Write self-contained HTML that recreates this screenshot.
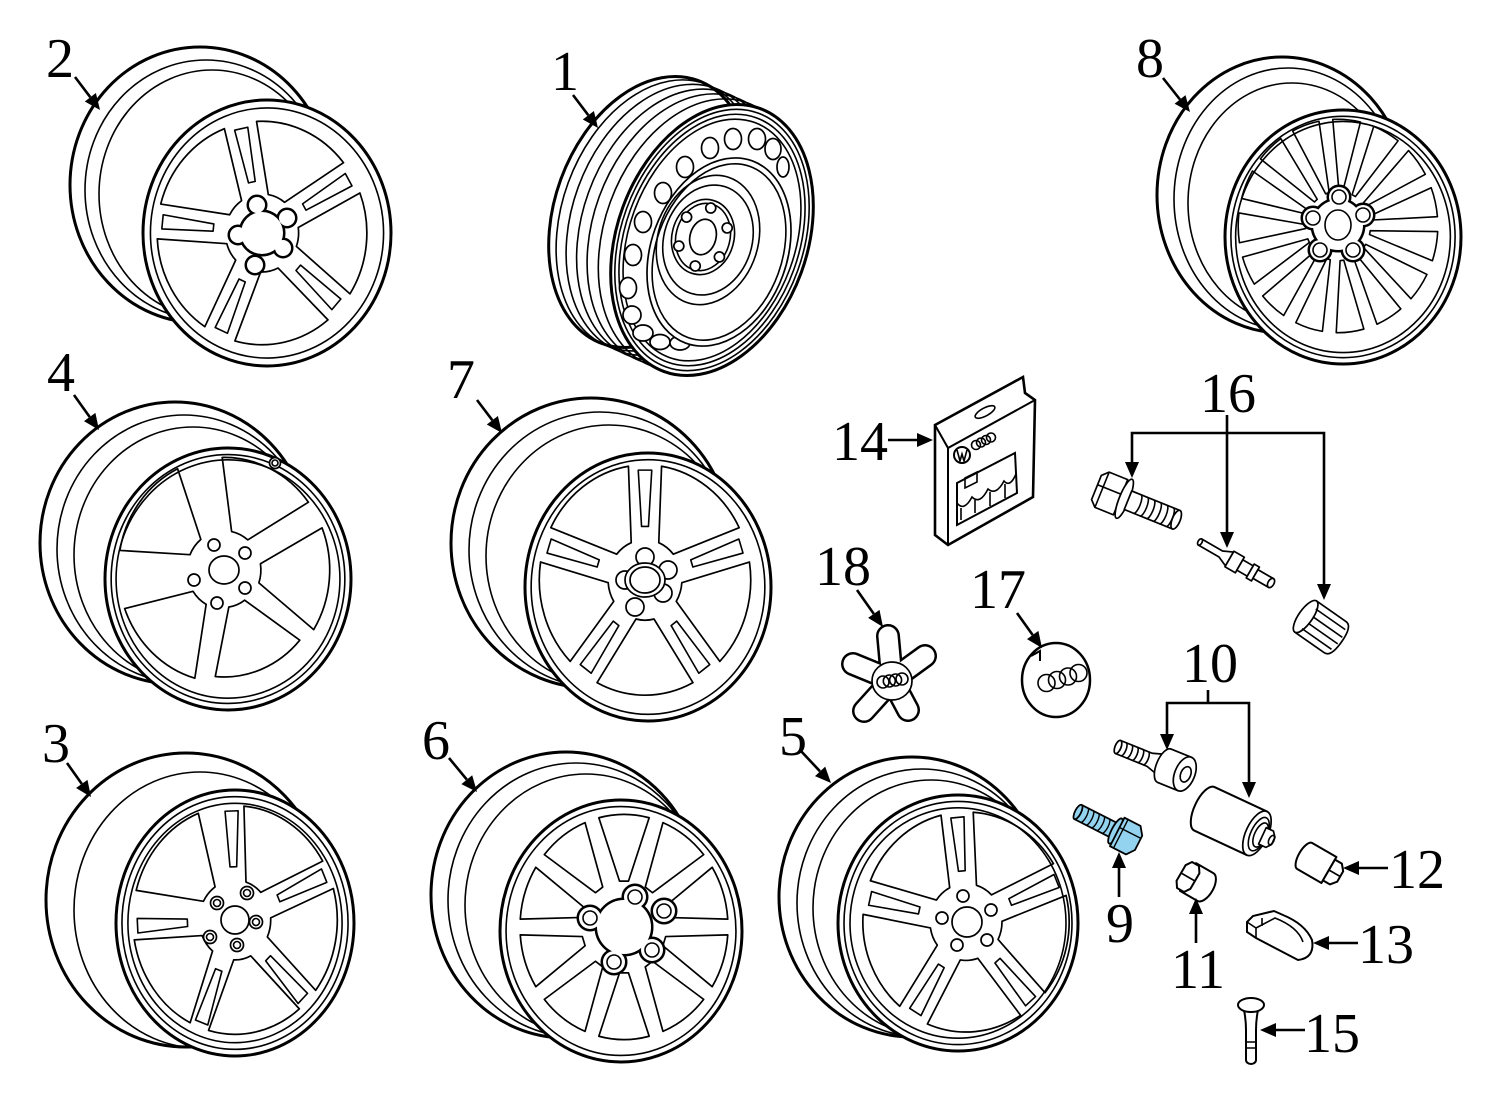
<!DOCTYPE html>
<html><head><meta charset="utf-8"><style>
html,body{margin:0;padding:0;background:#fff;}
svg{display:block}
.o{fill:#fff;stroke:#000;stroke-width:3}
.t{fill:none;stroke:#000;stroke-width:1.6}
.w{fill:#fff;stroke:#000;stroke-width:1.7}
.f *{vector-effect:non-scaling-stroke}
text{font-family:"Liberation Serif","DejaVu Serif",serif;font-size:56px;fill:#000;text-anchor:middle}
.ar{stroke:#000;stroke-width:2.6;fill:none}
.ah{fill:#000;stroke:none}
.b{fill:#93d3f0;stroke:#000;stroke-width:1.8}
</style></head><body>
<svg width="1500" height="1103" viewBox="0 0 1500 1103" xmlns="http://www.w3.org/2000/svg">
<defs>
<path id="big" d="M-7.3,-29.1 L-39,-76.6 A86,86 0 0 1 39,-76.6 L7.3,-29.1 A30,30 0 0 0 -7.3,-29.1 Z" fill="none" stroke="#000" stroke-width="1.7" vector-effect="non-scaling-stroke" stroke-linejoin="round"/>
<path id="slit" d="M-2.8,-40 L-5.5,-82 L5.5,-82 L2.8,-40 Z" fill="none" stroke="#000" stroke-width="1.6" vector-effect="non-scaling-stroke" stroke-linejoin="round"/>
<path id="med" d="M-3.7,-35 L-20.8,-83.4 A86,86 0 0 1 20.8,-83.4 L3.7,-35 Z" fill="none" stroke="#000" stroke-width="1.7" vector-effect="non-scaling-stroke" stroke-linejoin="round"/>
<path id="nar" d="M-1.6,-28 L-12,-85.2 A86,86 0 0 1 12,-85.2 L1.6,-28 Z" fill="none" stroke="#000" stroke-width="1.6" vector-effect="non-scaling-stroke" stroke-linejoin="round"/>
</defs>

<!-- ========== WHEEL 2 ========== -->
<ellipse class="o" cx="200" cy="185" rx="130" ry="138"/>
<ellipse class="t" cx="206" cy="190" rx="121" ry="130"/>
<ellipse class="t" cx="212" cy="194" rx="113" ry="124"/>
<g class="f" transform="translate(267,233) scale(1.24,1.33)">
<circle class="o" r="100"/><circle class="t" r="94"/>
</g>
<g class="f" transform="translate(262,233) scale(1.22,1.30)">
<use href="#big" transform="rotate(24)"/><use href="#big" transform="rotate(96)"/><use href="#big" transform="rotate(168)"/><use href="#big" transform="rotate(240)"/><use href="#big" transform="rotate(312)"/>
<use href="#slit" transform="rotate(-12)"/><use href="#slit" transform="rotate(60)"/><use href="#slit" transform="rotate(132)"/><use href="#slit" transform="rotate(204)"/><use href="#slit" transform="rotate(276)"/>
</g>
<g stroke="#000" stroke-width="3" fill="#fff">
<circle cx="257" cy="205" r="9"/><circle cx="287" cy="218" r="9"/><circle cx="238" cy="235" r="9"/><circle cx="255" cy="265" r="9"/><circle cx="283" cy="248" r="9"/><circle cx="262" cy="233" r="22"/>
</g>
<g fill="#fff"><circle cx="262" cy="233" r="21"/><circle cx="257" cy="205" r="8"/><circle cx="287" cy="218" r="8"/><circle cx="238" cy="235" r="8"/><circle cx="255" cy="265" r="8"/><circle cx="283" cy="248" r="8"/></g>

<!-- ========== WHEEL 1 (steel) ========== -->
<g transform="translate(650,212) rotate(20)"><ellipse class="o" rx="95" ry="140"/></g>
<g transform="translate(657.4,215.4) rotate(20)"><ellipse class="t" rx="95" ry="140"/></g>
<g transform="translate(667.4,219.8) rotate(20)"><ellipse class="t" rx="95" ry="140"/></g>
<g transform="translate(677.9,224.6) rotate(20)"><ellipse class="t" rx="95" ry="140"/></g>
<g transform="translate(688.4,229.4) rotate(20)"><ellipse class="t" rx="95" ry="140"/></g>
<g transform="translate(699.6,234.4) rotate(20)"><ellipse class="t" rx="95" ry="140"/></g>
<g transform="translate(712,240) rotate(20)">
<ellipse class="o" rx="95" ry="140"/><ellipse class="t" rx="91" ry="135"/><ellipse class="t" rx="87" ry="130"/><ellipse class="t" rx="83" ry="125"/>
</g>
<g class="w">
<ellipse cx="710" cy="148" rx="8.5" ry="10.5"/><ellipse cx="733" cy="139" rx="8.5" ry="10.5"/><ellipse cx="757" cy="139" rx="8.5" ry="10.5"/><ellipse cx="773" cy="149" rx="8" ry="10.5"/><ellipse cx="783" cy="167" rx="6" ry="10"/>
<ellipse cx="685" cy="167" rx="8.5" ry="10.5"/><ellipse cx="663" cy="193" rx="8.5" ry="10.5"/><ellipse cx="643" cy="222" rx="8.5" ry="10.5"/><ellipse cx="633" cy="255" rx="8.5" ry="10.5"/><ellipse cx="628" cy="288" rx="8.5" ry="10.5"/><ellipse cx="632" cy="315" rx="9" ry="9"/><ellipse cx="643" cy="333" rx="10" ry="8"/><ellipse cx="660" cy="342" rx="10" ry="7.5"/><ellipse cx="680" cy="343" rx="10" ry="7"/>
</g>
<g transform="translate(719,252) rotate(20)"><ellipse class="w" rx="68" ry="97"/><ellipse class="t" rx="63" ry="91"/></g>
<g transform="translate(708,240) rotate(18)"><ellipse class="t" rx="50" ry="66"/><ellipse class="t" rx="44" ry="56"/></g>
<g transform="translate(703,237) rotate(15)">
<ellipse class="t" rx="31" ry="38"/><ellipse class="t" rx="27" ry="34"/>
<circle class="w" cx="0" cy="-30" r="5"/><circle class="w" cx="21" cy="-15" r="5"/><circle class="w" cx="21" cy="15" r="5"/><circle class="w" cx="0" cy="30" r="5"/><circle class="w" cx="-21" cy="15" r="5"/><circle class="w" cx="-21" cy="-15" r="5"/>
<ellipse class="w" rx="13" ry="18"/>
</g>

<!-- ========== WHEEL 8 ========== -->
<ellipse class="o" cx="1282" cy="195" rx="125" ry="138"/>
<ellipse class="t" cx="1288" cy="199" rx="114" ry="131"/>
<ellipse class="t" cx="1292" cy="203" rx="104" ry="120"/>
<g class="f" transform="translate(1343,237) scale(1.18,1.27)">
<circle class="o" r="100"/><circle class="t" r="95"/><circle class="t" r="91"/>
</g>
<g class="f" transform="translate(1338,226) scale(1.16,1.24)">
<use href="#nar" transform="rotate(5)"/><use href="#nar" transform="rotate(29)"/><use href="#nar" transform="rotate(53)"/><use href="#nar" transform="rotate(77)"/><use href="#nar" transform="rotate(101)"/><use href="#nar" transform="rotate(125)"/><use href="#nar" transform="rotate(149)"/><use href="#nar" transform="rotate(173)"/><use href="#nar" transform="rotate(197)"/><use href="#nar" transform="rotate(221)"/><use href="#nar" transform="rotate(245)"/><use href="#nar" transform="rotate(269)"/><use href="#nar" transform="rotate(293)"/><use href="#nar" transform="rotate(317)"/><use href="#nar" transform="rotate(341)"/>
</g>
<g stroke="#000" stroke-width="3" fill="#fff">
<circle cx="1339" cy="197" r="11"/><circle cx="1363" cy="215" r="11"/><circle cx="1353" cy="250" r="11"/><circle cx="1320" cy="250" r="11"/><circle cx="1313" cy="218" r="11"/><circle cx="1338" cy="225" r="26"/>
</g>
<g fill="#fff"><circle cx="1338" cy="225" r="25"/><circle cx="1339" cy="197" r="10"/><circle cx="1363" cy="215" r="10"/><circle cx="1353" cy="250" r="10"/><circle cx="1320" cy="250" r="10"/><circle cx="1313" cy="218" r="10"/></g>
<g class="t"><circle cx="1339" cy="197" r="7"/><circle cx="1363" cy="215" r="7"/><circle cx="1353" cy="250" r="7"/><circle cx="1320" cy="250" r="7"/><circle cx="1313" cy="218" r="7"/><ellipse cx="1338" cy="225" rx="13" ry="15"/></g>

<!-- ========== WHEEL 4 ========== -->
<ellipse class="o" cx="175" cy="543" rx="135" ry="141"/>
<ellipse class="t" cx="184" cy="549" rx="127" ry="134"/>
<ellipse class="t" cx="193" cy="555" rx="119" ry="128"/>
<g class="f" transform="translate(228,579) scale(1.23,1.31)">
<circle class="o" r="100"/><circle class="t" r="95"/><circle class="t" r="91"/>
</g>
<g class="f" transform="translate(224,570) scale(1.23,1.31)">
<use href="#big" transform="rotate(26)"/><use href="#big" transform="rotate(95)"/><use href="#big" transform="rotate(158) scale(0.95)"/><use href="#big" transform="rotate(223)"/><use href="#big" transform="rotate(307)"/>
</g>
<circle class="w" cx="275" cy="463" r="5.5"/><circle class="t" cx="275" cy="463" r="3"/>
<g class="w">
<ellipse cx="224" cy="570" rx="15" ry="14"/>
<circle cx="214" cy="545" r="6"/><circle cx="245" cy="553" r="6"/><circle cx="194" cy="580" r="6"/><circle cx="217" cy="603" r="6"/><circle cx="245" cy="588" r="6"/>
</g>

<!-- ========== WHEEL 7 ========== -->
<ellipse class="o" cx="591" cy="543" rx="140" ry="145"/>
<ellipse class="t" cx="600" cy="550" rx="131" ry="138"/>
<ellipse class="t" cx="609" cy="556" rx="123" ry="131"/>
<g class="f" transform="translate(648,587) scale(1.23,1.34)">
<circle class="o" r="100"/><circle class="t" r="95"/>
</g>
<g class="f" transform="translate(645,580) scale(1.23,1.34)">
<use href="#big" transform="rotate(36)"/><use href="#big" transform="rotate(108)"/><use href="#big" transform="rotate(180)"/><use href="#big" transform="rotate(252)"/><use href="#big" transform="rotate(324)"/>
<use href="#slit" transform="rotate(0)"/><use href="#slit" transform="rotate(72)"/><use href="#slit" transform="rotate(144)"/><use href="#slit" transform="rotate(216)"/><use href="#slit" transform="rotate(288)"/>
</g>
<g class="w">
<circle cx="645" cy="557" r="9"/><circle cx="668" cy="570" r="9"/><circle cx="663" cy="593" r="9"/><circle cx="635" cy="607" r="9"/><circle cx="625" cy="580" r="9"/>
<ellipse cx="645" cy="580" rx="20" ry="17"/><ellipse cx="645" cy="580" rx="15" ry="13"/>
</g>

<!-- ========== WHEEL 3 ========== -->
<ellipse class="o" cx="186" cy="900" rx="140" ry="147"/>
<ellipse class="t" cx="200" cy="910" rx="126" ry="138"/>
<g class="f" transform="translate(235,923) scale(1.19,1.33)">
<circle class="o" r="100"/><circle class="t" r="95"/><circle class="t" r="90"/>
</g>
<g class="f" transform="translate(235,920) scale(1.19,1.33)">
<use href="#big" transform="rotate(32)"/><use href="#big" transform="rotate(101)"/><use href="#big" transform="rotate(168)"/><use href="#big" transform="rotate(233)"/><use href="#big" transform="rotate(312)"/>
<use href="#slit" transform="rotate(-2)"/><use href="#slit" transform="rotate(66)"/><use href="#slit" transform="rotate(136)"/><use href="#slit" transform="rotate(200)"/><use href="#slit" transform="rotate(267)"/>
</g>
<g class="w">
<circle cx="235" cy="920" r="14"/>
<circle cx="247" cy="893" r="6.5"/><circle cx="256" cy="922" r="6.5"/><circle cx="237" cy="945" r="6.5"/><circle cx="210" cy="937" r="6.5"/><circle cx="217" cy="903" r="6.5"/>
</g>
<g class="t"><circle cx="247" cy="893" r="3.5"/><circle cx="256" cy="922" r="3.5"/><circle cx="237" cy="945" r="3.5"/><circle cx="210" cy="937" r="3.5"/><circle cx="217" cy="903" r="3.5"/></g>

<!-- ========== WHEEL 6 ========== -->
<ellipse class="o" cx="566" cy="895" rx="135" ry="143"/>
<ellipse class="t" cx="576" cy="900" rx="128" ry="137"/>
<ellipse class="t" cx="586" cy="905" rx="121" ry="131"/>
<g class="f" transform="translate(621,931) scale(1.21,1.31)">
<circle class="o" r="100"/><circle class="t" r="95"/>
</g>
<g class="f" transform="translate(624,927) scale(1.21,1.31)">
<use href="#med" transform="rotate(0)"/><use href="#med" transform="rotate(36)"/><use href="#med" transform="rotate(72)"/><use href="#med" transform="rotate(108)"/><use href="#med" transform="rotate(144)"/><use href="#med" transform="rotate(180)"/><use href="#med" transform="rotate(216)"/><use href="#med" transform="rotate(252)"/><use href="#med" transform="rotate(288)"/><use href="#med" transform="rotate(324)"/>
</g>
<g stroke="#000" stroke-width="3" fill="#fff">
<circle cx="635" cy="897" r="12"/><circle cx="664" cy="911" r="12"/><circle cx="652" cy="950" r="12"/><circle cx="614" cy="962" r="12"/><circle cx="590" cy="918" r="12"/><circle cx="624" cy="927" r="28"/>
</g>
<g fill="#fff"><circle cx="624" cy="927" r="27"/><circle cx="635" cy="897" r="11"/><circle cx="664" cy="911" r="11"/><circle cx="652" cy="950" r="11"/><circle cx="614" cy="962" r="11"/><circle cx="590" cy="918" r="11"/></g>
<g class="t"><circle cx="635" cy="897" r="7"/><circle cx="664" cy="911" r="7"/><circle cx="652" cy="950" r="7"/><circle cx="614" cy="962" r="7"/><circle cx="590" cy="918" r="7"/></g>

<!-- ========== WHEEL 5 ========== -->
<ellipse class="o" cx="912" cy="897" rx="133" ry="140"/>
<ellipse class="t" cx="922" cy="903" rx="125" ry="134"/>
<ellipse class="t" cx="931" cy="908" rx="118" ry="128"/>
<g class="f" transform="translate(958,923) scale(1.20,1.28)">
<circle class="o" r="100"/><circle class="t" r="95"/><circle class="t" r="90"/>
</g>
<g class="f" transform="translate(966,922) scale(1.20,1.28)">
<use href="#big" transform="rotate(31)"/><use href="#big" transform="rotate(103)"/><use href="#big" transform="rotate(175)"/><use href="#big" transform="rotate(247)"/><use href="#big" transform="rotate(319)"/>
<use href="#slit" transform="rotate(-5)"/><use href="#slit" transform="rotate(67)"/><use href="#slit" transform="rotate(139)"/><use href="#slit" transform="rotate(211)"/><use href="#slit" transform="rotate(283)"/>
</g>
<g class="w">
<circle cx="967" cy="922" r="15"/>
<circle cx="963" cy="896" r="6"/><circle cx="991" cy="910" r="6"/><circle cx="987" cy="940" r="6"/><circle cx="957" cy="945" r="6"/><circle cx="942" cy="918" r="6"/>
</g>

<!-- ========== PART 14 package ========== -->
<path class="o" style="stroke-width:2.6" d="M935,425 L1023,377 L1025,393 L1035,400 L1033,497 L948,545 L935,535 Z"/>
<path class="t" style="stroke-width:2" d="M935,425 L948,448 L1035,400 M948,448 L948,545"/>
<ellipse class="t" cx="985" cy="412" rx="11" ry="4" transform="rotate(-28 985 412)"/>
<circle class="t" cx="962" cy="455" r="8" style="stroke-width:2"/>
<path class="t" d="M957,450 L960,461 L962,454 L964,461 L967,450"/>
<g class="t"><circle cx="976" cy="445" r="4.5"/><circle cx="981" cy="442.5" r="4.5"/><circle cx="986" cy="440" r="4.5"/><circle cx="991" cy="437.5" r="4.5"/></g>
<path class="t" style="stroke-width:2" d="M957,483 L1015,453 L1017,493 L957,525 Z"/>
<path class="t" d="M965,478 L977,472 L977,482 L965,488 Z"/>
<path class="t" d="M957,503 Q964,512 972,497 Q980,505 988,489 Q996,496 1004,481 Q1010,488 1016,474 M961,520 L961,508 M975,513 L975,500 M990,506 L990,492 M1005,498 L1005,484"/>

<!-- ========== PART 18 ========== -->
<g stroke-linecap="round" fill="none">
<path d="M892,680 L888,636 M892,680 L925,656 M892,680 L908,710 M892,680 L864,711 M892,680 L853,664" stroke="#000" stroke-width="24"/>
<path d="M892,680 L888,636 M892,680 L925,656 M892,680 L908,710 M892,680 L864,711 M892,680 L853,664" stroke="#fff" stroke-width="19"/>
</g>
<ellipse class="w" cx="892" cy="681" rx="20" ry="19"/>
<g class="t"><circle cx="883" cy="682" r="6"/><circle cx="889.3" cy="681" r="6"/><circle cx="895.6" cy="680" r="6"/><circle cx="902" cy="679" r="6"/></g>

<!-- ========== PART 17 ========== -->
<ellipse class="o" style="stroke-width:2.5" cx="1056" cy="680" rx="34" ry="37"/>
<path class="t" style="stroke-width:2" d="M1031,656 L1040,651 L1040,661"/>
<g class="t"><circle cx="1046.5" cy="683" r="8.5"/><circle cx="1057" cy="680" r="8.5"/><circle cx="1068" cy="676.5" r="8.5"/><circle cx="1078.5" cy="673" r="8.5"/></g>

<!-- ========== PART 16 parts ========== -->
<g transform="translate(1115,495) rotate(22)" stroke-linejoin="round">
<path class="w" d="M-20,-13 L-14,-19 L6,-19 L6,19 L-14,19 L-20,13 Z"/>
<path class="t" d="M-20,-3 L6,-3 M-14,-19 L-14,19"/>
<ellipse class="w" cx="10" cy="0" rx="5" ry="21"/>
<path class="w" d="M14,-10 L66,-10 L66,10 L14,10 Z"/>
<ellipse class="w" cx="66" cy="0" rx="4" ry="10"/>
<path class="t" d="M24,-10 A3,10 0 0 1 24,10 M31,-10 A3,10 0 0 1 31,10 M38,-10 A3,10 0 0 1 38,10 M45,-10 A3,10 0 0 1 45,10 M52,-10 A3,10 0 0 1 52,10 M59,-10 A3,10 0 0 1 59,10"/>
</g>
<g transform="translate(1200,542) rotate(30)" stroke-linejoin="round">
<path class="w" d="M0,-3.5 L24,-3.5 L34,-8 L34,8 L24,3.5 L0,3.5 Z"/>
<ellipse class="w" cx="0" cy="0" rx="2" ry="3.5"/>
<rect class="w" x="34" y="-9" width="12" height="18"/>
<rect class="w" x="46" y="-6" width="12" height="12"/>
<rect class="w" x="58" y="-8" width="6" height="16"/>
<rect class="w" x="64" y="-5" width="18" height="10"/>
<ellipse class="w" cx="82" cy="0" rx="3" ry="5"/>
</g>
<g transform="translate(1322,628) rotate(35)" stroke-linejoin="round">
<path class="w" d="M-20,-19 L16,-19 Q24,-19 24,0 Q24,19 16,19 L-20,19 Z"/>
<ellipse class="w" cx="-20" cy="0" rx="7" ry="19"/>
<path class="t" d="M-16,-12 L20,-12 M-14,-4 L22,-4 M-14,4 L22,4 M-16,12 L20,12"/>
</g>

<!-- ========== PART 10 parts ========== -->
<g transform="translate(1118,747) rotate(22)" stroke-linejoin="round">
<path class="w" d="M0,-7 L34,-7 L50,-12 L50,12 L34,7 L0,7 Z"/>
<ellipse class="w" cx="0" cy="0" rx="3" ry="7"/>
<path class="t" d="M6,-7 A2.5,7 0 0 1 6,7 M12,-7 A2.5,7 0 0 1 12,7 M18,-7 A2.5,7 0 0 1 18,7 M24,-7 A2.5,7 0 0 1 24,7 M30,-7 A2.5,7 0 0 1 30,7"/>
<path class="w" d="M50,-18 L72,-18 L72,18 L50,18 A8,18 0 0 1 50,-18 Z"/>
<ellipse class="w" cx="72" cy="0" rx="10" ry="18"/>
<ellipse class="t" cx="73" cy="0" rx="5" ry="8"/>
</g>
<g transform="translate(1237,824) rotate(25)" stroke-linejoin="round">
<path class="w" style="stroke-width:2" d="M-36,-24 L22,-24 L22,24 L-36,24 A10,24 0 0 1 -36,-24 Z"/>
<ellipse class="w" cx="22" cy="0" rx="11" ry="24"/>
<ellipse class="t" cx="24" cy="0" rx="8" ry="18"/>
<ellipse class="t" cx="26" cy="0" rx="6" ry="13"/>
<path class="w" d="M28,-9 L36,-9 L40,-4 L40,4 L36,9 L28,9 Z"/>
<ellipse class="t" cx="38" cy="0" rx="2.5" ry="5"/>
</g>

<!-- ========== PART 9 (blue) ========== -->
<g transform="translate(1078,812) rotate(27)" stroke-linejoin="round">
<path class="b" d="M0,-8 L40,-8 L40,8 L0,8 Z"/>
<ellipse class="b" cx="0" cy="0" rx="3" ry="8"/>
<path fill="none" stroke="#000" stroke-width="1.4" d="M7,-8 A2.5,8 0 0 1 7,8 M13,-8 A2.5,8 0 0 1 13,8 M19,-8 A2.5,8 0 0 1 19,8 M25,-8 A2.5,8 0 0 1 25,8 M31,-8 A2.5,8 0 0 1 31,8"/>
<ellipse class="b" cx="42" cy="0" rx="4" ry="14"/>
<path class="b" d="M44,-16 L62,-16 L68,-8 L68,8 L62,16 L44,16 Z"/>
<path fill="none" stroke="#000" stroke-width="1.4" d="M44,-5 L68,-5 M48,-16 L48,16"/>
</g>

<!-- ========== PART 11 ========== -->
<g transform="translate(1188,877) rotate(30)" stroke-linejoin="round">
<path class="w" style="stroke-width:2" d="M0,-16 L20,-16 A8,16 0 0 1 20,16 L0,16 Z"/>
<path class="w" style="stroke-width:2" d="M-8,-9 L-4,-15 L4,-15 L8,-9 L8,9 L4,15 L-4,15 L-8,9 Z"/>
<path class="t" d="M-8,0 L8,0"/>
</g>

<!-- ========== PART 12 ========== -->
<g transform="translate(1322,866) rotate(30)" stroke-linejoin="round">
<path class="w" style="stroke-width:2" d="M-20,-15 L8,-15 L8,15 L-20,15 A6,15 0 0 1 -20,-15 Z"/>
<path class="w" style="stroke-width:2" d="M8,-12 L16,-12 L21,-6 L21,6 L16,12 L8,12 Z"/>
<path class="t" d="M8,0 L21,0"/>
</g>

<!-- ========== PART 13 ========== -->
<path class="w" style="stroke-width:2" d="M1247,922 L1253,916 L1274,911 L1283,915 Q1305,924 1312,940 Q1315,958 1298,960 L1256,938 L1247,932 Z"/>
<path class="t" d="M1247,922 L1256,928 L1256,938 M1256,928 L1275,918 Q1298,927 1303,942 M1262,918 L1262,926"/>

<!-- ========== PART 15 ========== -->
<path class="w" style="stroke-width:2" d="M1244,1010 Q1246,1020 1246,1030 L1246,1060 A5,4 0 0 0 1256,1060 L1256,1030 Q1256,1020 1258,1010 Z"/>
<ellipse class="w" style="stroke-width:2" cx="1251" cy="1005" rx="13" ry="7"/>
<path class="t" d="M1246,1042 L1256,1042 M1246,1048 L1256,1048"/>

<!-- ========== ARROWS ========== -->
<g class="ar">
<path d="M75,77 L90.3,97.2"/>
<path d="M573,95 L588.3,115.2"/>
<path d="M1163,78 L1180,99.5"/>
<path d="M74,395 L89.7,417"/>
<path d="M477,400 L492.3,420.2"/>
<path d="M67,763 L81.8,783.9"/>
<path d="M449,758 L466.8,779.6"/>
<path d="M800,750 L820,771.3"/>
<path d="M857,590 L873.8,613.9"/>
<path d="M1017,613 L1032.7,635"/>
<path d="M888,440 L917,440"/>
<path d="M1227,415 L1227,532 M1132,462 L1132,433 L1324,433 L1324,584"/>
<path d="M1208,690 L1208,703 M1167,734 L1167,703 L1249,703 L1249,782"/>
<path d="M1119,897 L1119,868"/>
<path d="M1196,943 L1196,914"/>
<path d="M1388,868 L1359,868"/>
<path d="M1358,943 L1329,943"/>
<path d="M1305,1030 L1276,1030"/>
</g>
<g class="ah">
<polygon points="100,110 84.8,101.5 95.9,93"/>
<polygon points="598,128 582.8,119.5 593.9,111"/>
<polygon points="1190,112 1174.6,103.8 1185.5,95.1"/>
<polygon points="99,430 84,421.1 95.4,412.9"/>
<polygon points="502,433 486.8,424.5 497.9,416"/>
<polygon points="91,797 76.05,787.97 87.49,779.89"/>
<polygon points="477,792 461.4,784.1 472.2,775.2"/>
<polygon points="831,783 815,776.1 825.2,766.6"/>
<polygon points="883,627 868.1,617.9 879.5,609.9"/>
<polygon points="1042,648 1027,639.1 1038.4,630.9"/>
<polygon points="933,440 917,433 917,447"/>
<polygon points="1132,478 1125,462 1139,462"/>
<polygon points="1227,548 1220,532 1234,532"/>
<polygon points="1324,600 1317,584 1331,584"/>
<polygon points="1167,750 1160,734 1174,734"/>
<polygon points="1249,798 1242,782 1256,782"/>
<polygon points="1119,852 1112,868 1126,868"/>
<polygon points="1196,898 1189,914 1203,914"/>
<polygon points="1343,868 1359,861 1359,875"/>
<polygon points="1313,943 1329,936 1329,950"/>
<polygon points="1260,1030 1276,1023 1276,1037"/>
</g>

<!-- ========== LABELS ========== -->
<text x="60" y="77">2</text>
<text x="565" y="90">1</text>
<text x="1150" y="77">8</text>
<text x="61" y="391">4</text>
<text x="461" y="398">7</text>
<text x="56" y="762">3</text>
<text x="436" y="759">6</text>
<text x="793" y="755">5</text>
<text x="860" y="460">14</text>
<text x="1228" y="412">16</text>
<text x="843" y="585">18</text>
<text x="998" y="608">17</text>
<text x="1210" y="682">10</text>
<text x="1120" y="942">9</text>
<text x="1198" y="988">11</text>
<text x="1417" y="888">12</text>
<text x="1386" y="963">13</text>
<text x="1332" y="1052">15</text>
</svg>
</body></html>
